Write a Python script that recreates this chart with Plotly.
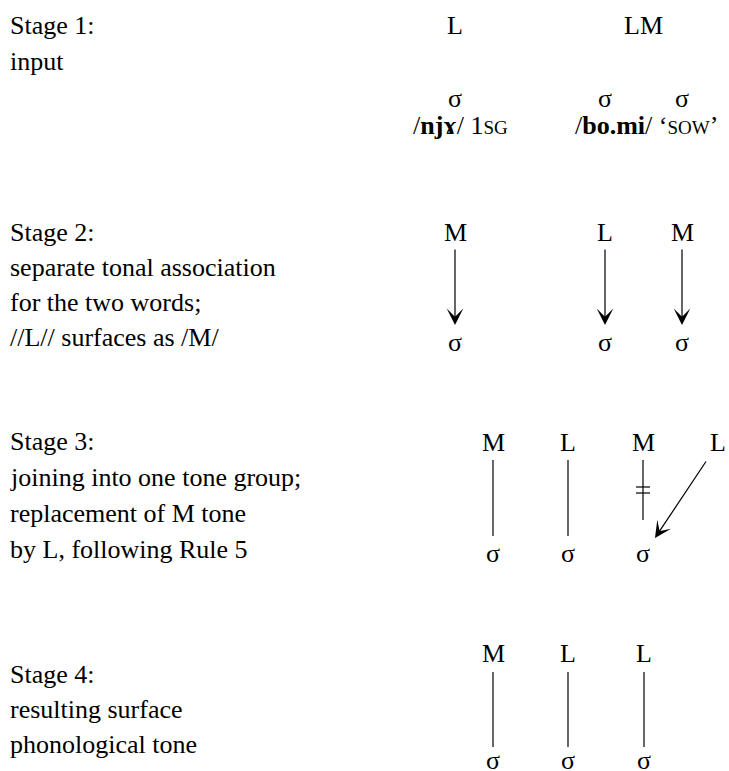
import plotly.graph_objects as go

W, H = 729, 771
FONT = "Liberation Serif"
FS = 26

# ---- left-hand stage descriptions ----
stage_text = [
    ["Stage 1:", "input"],
    ["Stage 2:", "separate tonal association", "for the two words;", "//L// surfaces as /M/"],
    ["Stage 3:", "joining into one tone group;", "replacement of M tone", "by L, following Rule 5"],
    ["Stage 4:", "resulting surface", "phonological tone"],
]
stage_text_y = [
    [25, 61],
    [232, 267, 302, 337],
    [441, 477, 513, 549],
    [674, 709, 744],
]
TEXT_X = 8

# ---- stage 1: input ----
s1_tones = ["L", "LM"]
s1_tone_x = [455, 643]
s1_tone_y = 25
s1_syl_x = [455, 605, 682]
s1_syl_y = 98
s1_gloss = ["/<b>njɤ</b>/ 1<span style='font-size:19px'>SG</span>",
            "/<b>bo.mi</b>/ ‘<span style='font-size:19px'>SOW</span>’"]
s1_gloss_x = [460, 646]
s1_gloss_y = 125

# ---- stage 2 ----
s2_tones = ["M", "L", "M"]
s2_x = [455, 605, 682]
s2_tone_y, s2_syl_y = 232, 342
s2_arrow_y0, s2_arrow_y1 = 248, 325

# ---- stage 3 ----
s3_tones = ["M", "L", "M", "L"]
s3_tone_x = [493, 568, 643, 718]
s3_syl_x = [493, 568, 643]
s3_tone_y, s3_syl_y = 442, 553
s3_link_y0 = 460
s3_link_y1 = [536, 536, 520]          # third link is cut (delinked)
s3_cut_y = [487, 493]
s3_spread_from = (707, 460)
s3_spread_to = (655, 538)

# ---- stage 4 ----
s4_tones = ["M", "L", "L"]
s4_x = [493, 568, 644]
s4_tone_y, s4_syl_y = 653, 760
s4_link_y0, s4_link_y1 = 672, 747

SIGMA = "σ"

fig = go.Figure()
ann = []
shapes = []

def txt(x, y, t, xanchor="center", size=FS):
    ann.append(dict(x=x, y=y, text=t, showarrow=False, xanchor=xanchor,
                    yanchor="middle", xref="x", yref="y",
                    font=dict(family=FONT, size=size, color="black")))

def line(x0, y0, x1, y1):
    shapes.append(dict(type="line", x0=x0, y0=y0, x1=x1, y1=y1, xref="x", yref="y",
                       line=dict(color="black", width=1.2)))

def arrow(x0, y0, x1, y1):
    ann.append(dict(x=x1, y=y1, ax=x0, ay=y0, xref="x", yref="y", axref="x", ayref="y",
                    text="", showarrow=True, arrowhead=3, arrowsize=2.3, arrowwidth=1.2,
                    arrowcolor="black", standoff=0, startstandoff=0))

for lines, ys in zip(stage_text, stage_text_y):
    for t, y in zip(lines, ys):
        txt(TEXT_X, y, t, xanchor="left")

# stage 1
for t, x in zip(s1_tones, s1_tone_x):
    txt(x, s1_tone_y, t)
for x in s1_syl_x:
    txt(x, s1_syl_y, SIGMA)
for t, x in zip(s1_gloss, s1_gloss_x):
    txt(x, s1_gloss_y, t)

# stage 2
for t, x in zip(s2_tones, s2_x):
    txt(x, s2_tone_y, t)
    txt(x, s2_syl_y, SIGMA)
    arrow(x, s2_arrow_y0, x, s2_arrow_y1)

# stage 3
for t, x in zip(s3_tones, s3_tone_x):
    txt(x, s3_tone_y, t)
for x, y1 in zip(s3_syl_x, s3_link_y1):
    txt(x, s3_syl_y, SIGMA)
    line(x, s3_link_y0, x, y1)
for cy in s3_cut_y:
    line(s3_syl_x[2] - 7, cy, s3_syl_x[2] + 7, cy)
arrow(s3_spread_from[0], s3_spread_from[1], s3_spread_to[0], s3_spread_to[1])

# stage 4
for t, x in zip(s4_tones, s4_x):
    txt(x, s4_tone_y, t)
    txt(x, s4_syl_y, SIGMA)
    line(x, s4_link_y0, x, s4_link_y1)

fig.update_layout(
    width=W, height=H,
    margin=dict(l=0, r=0, t=0, b=0),
    paper_bgcolor="white", plot_bgcolor="white",
    xaxis=dict(range=[0, W], visible=False, fixedrange=True),
    yaxis=dict(range=[H, 0], visible=False, fixedrange=True),
    annotations=ann, shapes=shapes, showlegend=False,
)
fig.write_html("out.html", config={"displayModeBar": False},
               post_script="document.body.style.margin='0';document.body.style.overflow='hidden';")
